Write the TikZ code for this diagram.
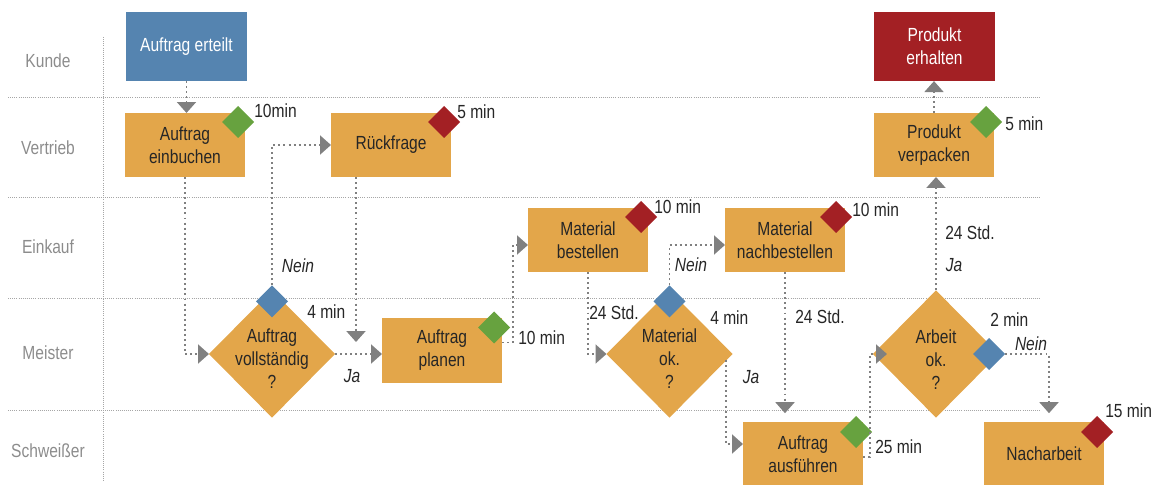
\documentclass[tikz,border=0pt]{standalone}
\usepackage{fontspec}
\setmainfont{Liberation Sans}[FakeStretch=0.82]
\usepackage{tikz}
\usetikzlibrary{arrows.meta,positioning,shapes.geometric}
\usepackage{xcolor}
\definecolor{orng}{HTML}{E3A64A}
\definecolor{blu}{HTML}{5584B0}
\definecolor{rd}{HTML}{A32024}
\definecolor{grn}{HTML}{67A23F}
\definecolor{gry}{HTML}{808080}
\definecolor{lanegray}{HTML}{8C8C8C}
\newcommand{\fsz}{\fontsize{13.5}{16.4}\selectfont}

\begin{document}
\begin{tikzpicture}[x=0.025cm, y=-0.025cm, every node/.style={font=\fsz}]
\tikzset{box/.style={fill=orng, align=center, minimum width=3cm, minimum height=1.6cm, inner sep=0pt, outer sep=0pt, text=black!85},
  endbox/.style={box, text=white, minimum width=3.03cm, minimum height=1.73cm},
  decision/.style={diamond, fill=orng, minimum width=3.15cm, minimum height=3.18cm, inner sep=0pt, outer sep=0pt},
  tag/.style={diamond, minimum width=0.8cm, minimum height=0.8cm, inner sep=0pt, outer sep=0pt},
  flow/.style={draw=gry, line width=1.4pt, dash pattern=on 1.4pt off 2.2pt, -{Triangle[length=7.8pt, width=13.5pt, fill=gry]}},
  lane/.style={draw=gray!70, line width=0.6pt, dash pattern=on 0.6pt off 0.9pt},
  lanelbl/.style={text=lanegray},
  time/.style={anchor=west, inner sep=0pt, text=black!85},
  answer/.style={font=\fsz\itshape, inner sep=0pt, text=black!85}}
\useasboundingbox (0,0) rectangle (1159,485);

% swimlanes
\foreach \y in {97,197,298,410}
  \draw[lane] (8,\y) -- (1040,\y);
\draw[lane] (103,37) -- (103,482);
\foreach \y/\t [count=\i] in {61/Kunde, 148/Vertrieb, 247/Einkauf, 353/Meister, 451/Schwei{ß}er}
  \node[lanelbl] (lane\i) at (48,\y) {\t};

% process steps
\node[endbox, fill=blu] (erteilt) at (186.5,46.5) {Auftrag erteilt};
\node[endbox, fill=rd] (erhalten) at (934.5,46.5) {Produkt\\erhalten};
\node[box] (ein) at (185,145) {Auftrag\\einbuchen};
\node[box] (rueck) at (391,145) {Rückfrage};
\node[box] (bestellen) at (588,240) {Material\\bestellen};
\node[box] (nach) at (785,240) {Material\\nachbestellen};
\node[box] (verp) at (934,145) {Produkt\\verpacken};
\node[box] (planen) at (442,350.5) {Auftrag\\planen};
\node[box] (ausf) at (803,454) {Auftrag\\ausführen};
\node[box] (nachar) at (1044,454) {Nacharbeit};

% decisions
\node[decision, label={[align=center, yshift=-3pt, text=black!85]center:Auftrag\\vollständig\\?}] (vollst) at (272,354) {};
\node[decision, label={[align=center, yshift=-3pt, text=black!85]center:Material\\ok.\\?}] (matok) at (669.5,354) {};
\node[decision, label={[align=center, yshift=-4pt, text=black!85]center:Arbeit\\ok.\\?}] (arbeit) at (936,354) {};

% markers
\node[tag, fill=grn] (d1) at ([shift={(-7,9)}]ein.north east) {};
\node[tag, fill=rd] (d2) at ([shift={(-7,9)}]rueck.north east) {};
\node[tag, fill=rd] (d3) at ([shift={(-7,9)}]bestellen.north east) {};
\node[tag, fill=rd] (d4) at ([shift={(-9,9)}]nach.north east) {};
\node[tag, fill=grn] (d5) at ([shift={(-8,9)}]verp.north east) {};
\node[tag, fill=grn] (d6) at ([shift={(-8,9)}]planen.north east) {};
\node[tag, fill=grn] (d7) at ([shift={(-7,10)}]ausf.north east) {};
\node[tag, fill=rd] (d8) at ([shift={(-7,10)}]nachar.north east) {};
\node[tag, fill=blu] (q1) at ([shift={(0,11)}]vollst.north) {};
\node[tag, fill=blu] (q2) at ([shift={(0,11)}]matok.north) {};
\node[tag, fill=blu] (q3) at ([shift={(-10,0)}]arbeit.east) {};

% times
\node[time] (t1) at (254,111) {10min};
\node[time] (t2) at (457,112) {5 min};
\node[time] (t3) at (654,207) {10 min};
\node[time] (t4) at (852,210) {10 min};
\node[time] (t5) at (1005,124) {5 min};
\node[time] (t6) at (518,338) {10 min};
\node[time] (t7) at (875,447) {25 min};
\node[time] (t8) at (1105,411) {15 min};
\node[time] (t9) at (307,312) {4 min};
\node[time] (t10) at (710,318) {4 min};
\node[time] (t11) at (990,320) {2 min};

% connectors
\coordinate (back) at (356,342);
\draw[flow] (erteilt.south) -- (erteilt.south |- ein.north);
\draw[flow] (ein.south) |- (vollst.west);
\draw[flow] (q1.north) |- (rueck.west);
\draw[flow] (back |- rueck.south) -- (back);
\draw[flow] (vollst.east) -- (vollst.east -| planen.west);
\draw[flow] ([shift={(0,-8)}]planen.east) -- ++(11,0) |- ([shift={(0,5)}]bestellen.west);
\draw[flow] (bestellen.south) |- (matok.west);
\draw[flow] (q2.north) |- ([shift={(0,5)}]nach.west);
\draw[flow] ([shift={(-7,6)}]matok.east) |- ([shift={(0,-10)}]ausf.west);
\draw[flow, shorten >=0.22cm] (nach.south) -- (nach.south |- ausf.north);
\draw[flow] ([shift={(0,3)}]ausf.east) -- ++(7,0) |- ([shift={(14,0)}]arbeit.west);
\draw[flow] (arbeit.north) -- (arbeit.north |- verp.south);
\draw[flow] (verp.north) -- (verp.north |- erhalten.south);
\draw[flow, shorten >=0.22cm] (q3.east) -| ([shift={(5,0)}]nachar.north);

% answers
\node[answer] (a1) at (298,266) {Nein};
\node[answer] (a2) at (352,376) {Ja};
\node[answer] (a3) at (691,265) {Nein};
\node[answer] (a4) at (751,377) {Ja};
\node[answer] (a5) at (954,265) {Ja};
\node[answer] (a6) at (1031,344) {Nein};
\node[time, anchor=center] (s1) at (614,313) {24 Std.};
\node[time, anchor=center] (s2) at (820,317) {24 Std.};
\node[time, anchor=center] (s3) at (970,233) {24 Std.};
\end{tikzpicture}
\end{document}
